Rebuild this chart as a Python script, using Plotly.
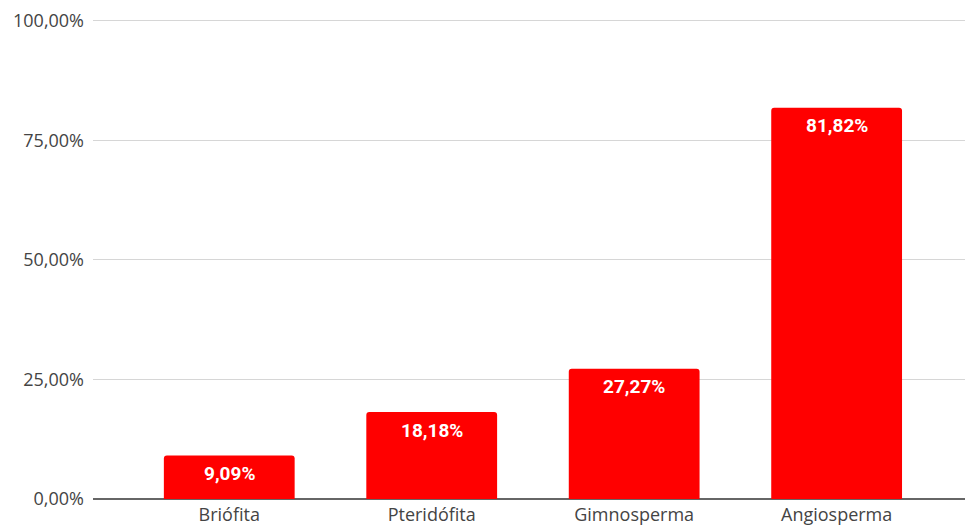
import plotly.graph_objects as go

categories = ["Briófita", "Pteridófita", "Gimnosperma", "Angiosperma"]
values = [0.0909, 0.1818, 0.2727, 0.8182]
ytick_vals = [0, 0.25, 0.5, 0.75, 1.0]

fig = go.Figure()
fig.add_trace(go.Bar(
    x=categories, y=values,
    marker=dict(color="#ff0000", line=dict(width=0)),
    hoverinfo="skip",
))

for c, v in zip(categories, values):
    fig.add_annotation(
        x=c, y=v, yshift=-18, showarrow=False,
        text=f"{v*100:.2f}%".replace(".", ","),
        font=dict(family="Roboto", size=19, color="white", weight="bold"),
        yanchor="middle",
    )

fig.update_layout(
    width=966, height=529,
    margin=dict(l=93, r=1, t=19, b=30),
    paper_bgcolor="white", plot_bgcolor="white",
    separators=",.",
    bargap=0.354,
    barcornerradius=3,
    showlegend=False,
    font=dict(family="Open Sans", size=18, color="#444444"),
)
fig.update_xaxes(
    range=[-0.673, 3.634], showgrid=False, showline=False,
    ticks="", ticklabelstandoff=3,
)
fig.update_yaxes(
    range=[0, 1.004], tickvals=ytick_vals, tickformat=".2%",
    showgrid=True, gridcolor="#d6d6d6", gridwidth=1,
    zeroline=True, zerolinecolor="#666666", zerolinewidth=1.5,
    showline=False, ticks="", ticklabelstandoff=8,
)
fig.write_html("out.html")
